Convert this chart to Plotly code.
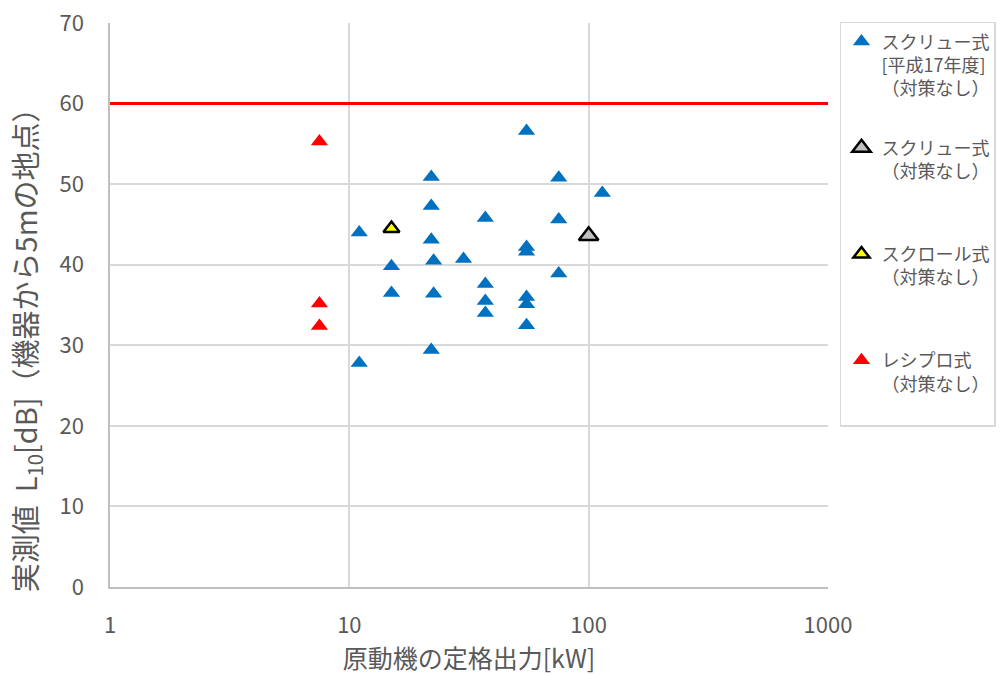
import plotly.graph_objects as go

# ---- data ----
screw_h17_kw = [11, 11, 15, 15, 22, 22, 22, 22, 22.5, 22.5, 30, 37, 37, 37, 37,
                55, 55, 55, 55, 55, 55, 75, 75, 75, 114]
screw_h17_db = [27.8, 44.0, 39.8, 36.5, 50.9, 47.3, 43.1, 29.4, 40.5, 36.4, 40.7, 45.8, 37.6, 35.5, 34.0,
                56.6, 42.2, 41.6, 36.0, 35.1, 32.5, 50.8, 45.6, 38.9, 48.9]
screw_kw = [100]
screw_db = [43.6]
scroll_kw = [15]
scroll_db = [44.5]
recip_kw = [7.5, 7.5, 7.5]
recip_db = [55.3, 35.2, 32.4]
limit_db = 60
x_range_kw = [1, 1000]

names = [
    "スクリュー式<br>[平成17年度]<br>（対策なし）",
    "スクリュー式<br>（対策なし）<br>\u00a0",
    "スクロール式<br>（対策なし）<br>\u00a0",
    "レシプロ式<br>（対策なし）<br>\u00a0",
]
y_title = "実測値  L<sub>10</sub>[dB]（機器から5mの地点）"
x_title = "原動機の定格出力[kW]"

FONT = "Noto Sans CJK JP, Noto Sans, sans-serif"
GRID = "#d9d9d9"
AXIS = "#bfbfbf"
TXT = "#595959"

fig = go.Figure()
fig.add_trace(go.Scatter(
    x=x_range_kw, y=[limit_db, limit_db], mode="lines",
    line=dict(color="#FF0000", width=3), showlegend=False, hoverinfo="skip"))
fig.add_trace(go.Scatter(
    x=screw_h17_kw, y=screw_h17_db, mode="markers", name=names[0], legendgroup="g1",
    marker=dict(symbol="triangle-up", size=15, color="#0070C0", line=dict(width=0))))
fig.add_trace(go.Scatter(
    x=screw_kw, y=screw_db, mode="markers", name=names[1], legendgroup="g2",
    marker=dict(symbol="triangle-up", size=17, color="#BFBFBF", line=dict(width=2.5, color="#000000"))))
fig.add_trace(go.Scatter(
    x=scroll_kw, y=scroll_db, mode="markers", name=names[2], legendgroup="g3",
    marker=dict(symbol="triangle-up", size=14, color="#FFFF00", line=dict(width=2.5, color="#000000"))))
fig.add_trace(go.Scatter(
    x=recip_kw, y=recip_db, mode="markers", name=names[3], legendgroup="g4",
    marker=dict(symbol="triangle-up", size=15, color="#FF0000", line=dict(width=0))))

fig.update_layout(
    width=1008, height=675,
    margin=dict(l=110, r=180, t=23, b=88),
    paper_bgcolor="white", plot_bgcolor="white",
    font=dict(family=FONT, color=TXT, size=20),
    legend=dict(
        x=1.0167, y=1.002, xanchor="left", yanchor="top",
        bordercolor=GRID, borderwidth=1.5, bgcolor="white",
        font=dict(size=18, color=TXT, family=FONT),
        valign="top", tracegroupgap=33, itemwidth=30,
        groupclick="toggleitem", maxheight=600,
    ),
    xaxis=dict(
        type="log", range=[0, 3], dtick=1, automargin=False,
        showgrid=True, gridcolor=GRID, gridwidth=1.5,
        showline=True, linecolor=AXIS, linewidth=1.5,
        zeroline=False, ticks="", ticklabelstandoff=18,
        tickfont=dict(size=22, color=TXT),
        title=dict(text=x_title, font=dict(size=25, color=TXT), standoff=0),
    ),
    yaxis=dict(
        range=[0, 70], dtick=10, automargin=False,
        showgrid=True, gridcolor=GRID, gridwidth=1.5,
        showline=True, linecolor=AXIS, linewidth=1.5,
        zeroline=False, ticks="", ticklabelstandoff=20,
        tickfont=dict(size=22, color=TXT),
    ),
    annotations=[dict(
        text=y_title, xref="paper", yref="paper", x=0, y=0.432,
        xshift=-84, xanchor="center", yanchor="middle", textangle=-90,
        showarrow=False, font=dict(size=29, color=TXT, family=FONT),
    )],
)

fig.write_html("out.html", config={"displayModeBar": False},
               post_script="document.body.style.margin='0';document.body.style.padding='0';")
